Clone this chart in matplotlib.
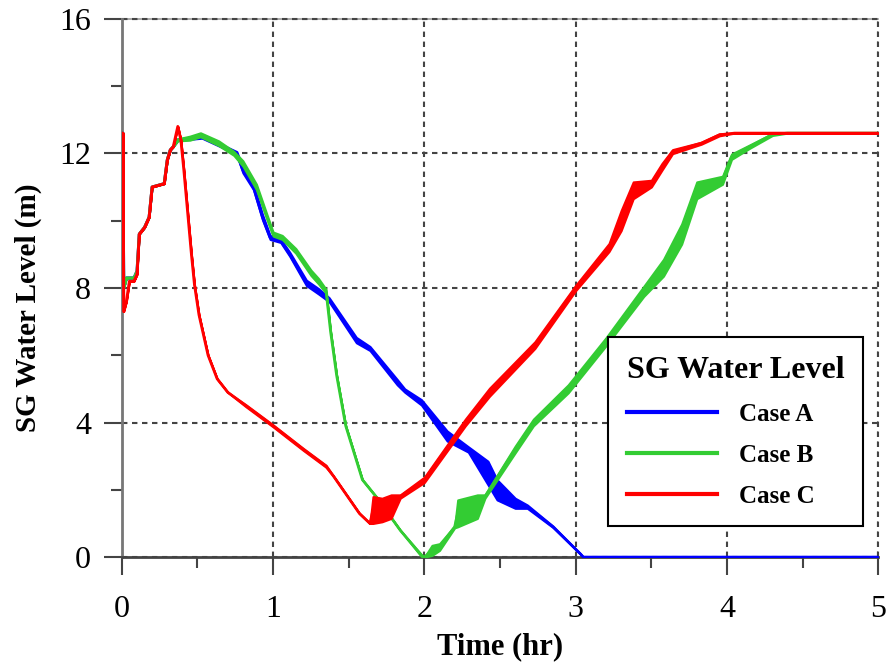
import numpy as np
import matplotlib
matplotlib.use("Agg")
import matplotlib.pyplot as plt
from matplotlib.ticker import MultipleLocator

plt.rcParams['font.family'] = ['Liberation Serif', 'DejaVu Serif']

# SG water level traces: time (hr), level (m), and half-width of the oscillation band (m)
case_a_t = [0.0, 0.008, 0.012, 0.03, 0.05, 0.08, 0.10, 0.115, 0.15, 0.18, 0.20, 0.28, 0.30, 0.32, 0.34,
            0.37, 0.53, 0.67, 0.76, 0.80, 0.87, 0.93, 0.98, 1.05, 1.11, 1.22, 1.30, 1.37, 1.55, 1.64,
            1.82, 1.87, 1.98, 2.15, 2.29, 2.42, 2.48, 2.60, 2.68, 2.85, 3.03, 3.05, 5.00]
case_a_lvl = [12.6, 12.6, 8.0, 8.3, 8.3, 8.3, 8.5, 9.6, 9.8, 10.1, 11.0, 11.1, 11.8, 12.1, 12.2,
              12.4, 12.47, 12.2, 12.0, 11.5, 11.0, 10.1, 9.5, 9.4, 9.0, 8.15, 7.9, 7.65, 6.45, 6.2,
              5.2, 4.95, 4.6, 3.6, 3.2, 2.5, 2.0, 1.6, 1.5, 0.9, 0.1, 0.0, 0.0]
case_a_band = [0, 0, 0, 0, 0, 0, 0, 0, 0, 0, 0, 0, 0, 0, 0,
               0.02, 0.02, 0.04, 0.05, 0.08, 0.08, 0.08, 0.06, 0.05, 0.06, 0.08, 0.08, 0.06, 0.08, 0.06,
               0.08, 0.05, 0.08, 0.15, 0.08, 0.35, 0.3, 0.15, 0.05, 0.02, 0, 0, 0]

case_b_t = [0.0, 0.008, 0.012, 0.03, 0.05, 0.08, 0.10, 0.115, 0.15, 0.18, 0.20, 0.28, 0.30, 0.32, 0.34,
            0.37, 0.45, 0.52, 0.64, 0.74, 0.80, 0.89, 0.96, 1.00, 1.06, 1.15, 1.25, 1.30, 1.35,
            1.38, 1.42, 1.48, 1.59, 1.68, 1.84, 1.98, 2.00, 2.05, 2.10, 2.20,
            2.22, 2.35, 2.40, 2.60, 2.72, 2.95, 3.20, 3.45, 3.58, 3.70, 3.80, 3.97, 4.03, 4.15, 4.30,
            4.40, 5.00]
case_b_lvl = [12.6, 12.6, 8.0, 8.3, 8.3, 8.3, 8.5, 9.6, 9.8, 10.1, 11.0, 11.1, 11.8, 12.1, 12.2,
              12.4, 12.45, 12.55, 12.3, 12.0, 11.7, 11.0, 10.1, 9.6, 9.5, 9.1, 8.45, 8.2, 7.9,
              6.7, 5.4, 3.9, 2.3, 1.8, 0.8, 0.05, 0.0, 0.2, 0.3, 0.9,
              1.3, 1.5, 1.8, 3.2, 4.0, 5.0, 6.4, 7.9, 8.6, 9.6, 10.9, 11.2, 11.9, 12.2, 12.56,
              12.6, 12.6]
case_b_band = [0, 0, 0, 0, 0, 0, 0, 0, 0, 0, 0, 0, 0, 0, 0,
               0.03, 0.06, 0.06, 0.07, 0.06, 0.08, 0.08, 0.07, 0.06, 0.06, 0.07, 0.08, 0.08, 0.06,
               0, 0, 0, 0, 0, 0, 0.03, 0.0, 0.15, 0.1, 0.03,
               0.4, 0.35, 0.05, 0.1, 0.1, 0.12, 0.12, 0.15, 0.25, 0.3, 0.25, 0.12, 0.08, 0.05, 0.03,
               0, 0]

case_c_t = [0.0, 0.008, 0.012, 0.03, 0.05, 0.08, 0.10, 0.115, 0.15, 0.18, 0.20, 0.28, 0.30, 0.32, 0.34,
            0.37, 0.39, 0.41, 0.43, 0.46, 0.48, 0.51, 0.57, 0.63, 0.70, 0.82, 1.00, 1.20, 1.35, 1.40,
            1.57, 1.64, 1.66, 1.72, 1.78, 1.84, 2.00, 2.27, 2.43, 2.73, 3.00, 3.22, 3.30, 3.38, 3.50,
            3.57, 3.64, 3.83, 3.95, 4.05, 5.00]
case_c_lvl = [12.6, 12.6, 7.3, 7.6, 8.2, 8.2, 8.4, 9.6, 9.8, 10.1, 11.0, 11.1, 11.8, 12.1, 12.2,
              12.8, 12.4, 11.5, 10.5, 9.0, 8.1, 7.2, 6.0, 5.3, 4.9, 4.5, 3.9, 3.2, 2.7, 2.4,
              1.3, 1.0, 1.4, 1.4, 1.5, 1.8, 2.3, 4.0, 4.9, 6.3, 8.0, 9.2, 10.0, 10.9, 11.1,
              11.6, 12.05, 12.3, 12.55, 12.6, 12.6]
case_c_band = [0, 0, 0, 0, 0, 0, 0, 0, 0, 0, 0, 0, 0, 0, 0,
               0, 0, 0, 0, 0, 0, 0, 0, 0, 0, 0.03, 0.03, 0.03, 0.03, 0,
               0, 0, 0.4, 0.35, 0.35, 0.05, 0.08, 0.1, 0.12, 0.1, 0.08, 0.12, 0.3, 0.25, 0.1,
               0.1, 0.06, 0.03, 0.03, 0, 0]

cases = [
    ("Case A", case_a_t, case_a_lvl, case_a_band, "#0000ff"),
    ("Case B", case_b_t, case_b_lvl, case_b_band, "#33cc33"),
    ("Case C", case_c_t, case_c_lvl, case_c_band, "#ff0000"),
]

fig = plt.figure(figsize=(8.89, 6.68), dpi=100)
ax = fig.add_axes([0.137, 0.166, 0.851, 0.806])

for name, t, lvl, band, color in cases:
    t = np.array(t)
    lvl = np.array(lvl)
    band = np.array(band)
    ax.fill_between(t, lvl - band, lvl + band, color=color, lw=1.5, zorder=3)
    ax.plot(t, lvl, color=color, lw=2.0, label=name, zorder=3)

ax.set_xlim(0, 5)
ax.set_ylim(0, 16)
ax.xaxis.set_major_locator(MultipleLocator(1))
ax.xaxis.set_minor_locator(MultipleLocator(0.5))
ax.yaxis.set_major_locator(MultipleLocator(4))
ax.yaxis.set_minor_locator(MultipleLocator(2))

ax.set_axisbelow(True)
dash = (0, (2.6, 2.2))
ax.grid(True, which='major', color='#444444', lw=1.5, linestyle=dash)
ax.axhline(16, color='#999999', lw=1.2, clip_on=False, zorder=1)
ax.axhline(16, color='#444444', lw=1.5, linestyle=dash, clip_on=False, zorder=1)
ax.axvline(5, color='#444444', lw=1.5, linestyle=dash, clip_on=False, zorder=1)

for side in ('top', 'right'):
    ax.spines[side].set_visible(False)
ax.spines['left'].set_color('#777777')
ax.spines['bottom'].set_color('#444444')
ax.spines['left'].set_linewidth(2)
ax.spines['bottom'].set_linewidth(2)

ax.tick_params(which='major', direction='out', length=13, width=1.5, color='#444444',
               labelsize=23)
ax.tick_params(axis='x', which='major', pad=14)
ax.tick_params(axis='y', which='major', pad=9)
ax.tick_params(which='minor', direction='out', length=8, width=1.5, color='#444444')

ax.set_xlabel("Time (hr)", fontsize=22, fontweight='bold', labelpad=6)
ax.set_ylabel("SG Water Level (m)", fontsize=21, fontweight='bold')
ax.yaxis.set_label_coords(-0.106, 0.463)

leg = ax.legend(loc='upper left', bbox_to_anchor=(0.643, 0.409), borderaxespad=0,
                title="SG Water Level",
                title_fontproperties={'size': 23, 'weight': 'bold'},
                prop={'size': 18, 'weight': 'bold'},
                handlelength=3.6, handletextpad=0.9, labelspacing=0.72,
                borderpad=0.75, fancybox=False, framealpha=1, edgecolor='black',
                alignment='left')
leg.get_frame().set_linewidth(1.5)
leg.set_zorder(5)
for h in leg.legend_handles:
    h.set_linewidth(3)

fig.savefig("out.png", dpi=100)
